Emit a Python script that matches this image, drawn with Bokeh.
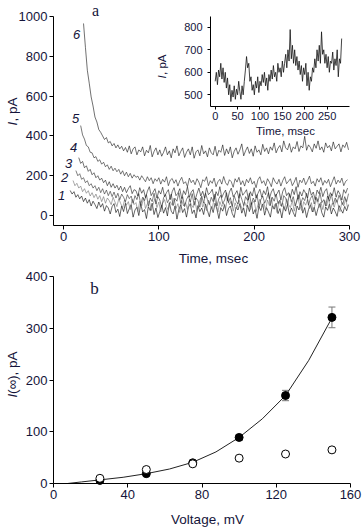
from math import pi
from bokeh.plotting import figure
from bokeh.layouts import column
from bokeh.models import (Range1d, FixedTicker, Label, ColumnDataSource, LinearAxis,
                          Whisker, TeeHead)
from bokeh.embed import file_html
from bokeh.resources import INLINE

# ---------------- data: panel a (current traces, pA vs ms) ----------------
STEP = 2.0
trace1_start = 7
trace1 = [126, 108, 120, 92, 105, 84, 98, 70, 88, 62,
          80, 48, 72, 55, 35, 68, 42, 60, 22, 50,
          38, 8, 45, 60, 15, 32, -5, 48, 20, 62,
          10, 35, 55, -8, 28, 42, 0, 58, 18, 30,
          -15, 45, 25, 62, 5, 38, -10, 20, 52, 12,
          40, -2, 65, 22, 8, 48, -18, 30, 55, 15,
          35, -8, 42, 60, 10, 28, -12, 50, 20, 38,
          5, 58, 25, -6, 45, 15, 62, 30, -15, 40,
          22, 55, 0, 35, 48, 10, -10, 42, 28, 60,
          12, 38, -5, 52, 20, 65, 8, 30, -14, 45,
          25, 58, 2, 40, 18, -8, 50, 32, 62, 10,
          35, -12, 46, 22, 56, 5, 38, 15, -6, 48,
          28, 64, 12, 40, -10, 30, 54, 18, 42, 0,
          36, 60, 14, -8, 44, 26, 58, 8, 38, 20,
          -4, 50, 30, 12, 46, 24, 55]
trace2_start = 10
trace2 = [176, 150, 162, 138, 148, 120, 135, 112, 125, 98,
          115, 90, 108, 82, 100, 70, 95, 62, 88, 75,
          55, 92, 68, 45, 85, 60, 38, 78, 52, 70,
          30, 82, 55, 65, 20, 72, 48, 90, 35, 60,
          75, 25, 58, 85, 40, 68, 18, 62, 80, 45,
          28, 70, 52, 88, 35, 60, 15, 75, 48, 65,
          30, 82, 55, 40, 72, 20, 58, 90, 42, 66,
          25, 78, 50, 35, 85, 60, 18, 70, 45, 62,
          32, 88, 55, 72, 22, 64, 40, 80, 50, 28,
          68, 45, 86, 30, 60, 75, 20, 55, 82, 42,
          65, 28, 78, 50, 90, 35, 58, 15, 72, 48,
          62, 30, 84, 55, 40, 76, 22, 60, 88, 45,
          25, 70, 52, 80, 35, 65, 18, 58, 85, 40,
          68, 30, 76, 48, 90, 26, 62, 42, 80, 55,
          20, 66, 48, 84, 38]
trace3_start = 13
trace3 = [226, 200, 210, 182, 190, 165, 175, 150, 160, 138,
          150, 125, 142, 115, 135, 108, 128, 100, 122, 95,
          118, 88, 112, 80, 108, 92, 70, 105, 85, 98,
          62, 100, 80, 110, 55, 92, 75, 105, 48, 88,
          70, 112, 58, 95, 78, 40, 90, 105, 65, 82,
          108, 50, 86, 72, 115, 60, 95, 45, 80, 100,
          68, 110, 52, 88, 75, 42, 98, 62, 112, 80,
          55, 92, 70, 108, 48, 85, 102, 60, 78, 115,
          65, 90, 45, 100, 72, 58, 110, 82, 50, 95,
          76, 112, 55, 88, 68, 105, 42, 80, 98, 62,
          85, 115, 50, 92, 72, 108, 60, 78, 45, 100,
          88, 55, 110, 70, 95, 48, 82, 105, 62, 90,
          75, 112, 52, 86, 100, 58, 92, 70, 115, 65,
          80, 48, 98, 72, 108, 56, 88, 66, 102, 78,
          55, 95, 70, 110]
trace4_start = 16
trace4 = [291, 262, 272, 240, 250, 222, 232, 205, 215, 190,
          200, 178, 188, 165, 178, 150, 170, 142, 160, 138,
          152, 128, 148, 120, 142, 115, 135, 150, 110, 130,
          125, 98, 140, 112, 130, 90, 122, 145, 100, 118,
          135, 88, 125, 108, 142, 95, 115, 130, 80, 120,
          140, 100, 112, 135, 85, 125, 105, 145, 92, 118,
          130, 78, 110, 138, 98, 122, 88, 140, 105, 115,
          132, 82, 120, 100, 145, 90, 112, 128, 75, 118,
          138, 95, 108, 125, 86, 142, 102, 115, 130, 80,
          120, 98, 140, 88, 112, 132, 92, 125, 105, 145,
          85, 118, 135, 96, 110, 128, 78, 122, 140, 100,
          115, 90, 132, 105, 145, 82, 120, 98, 130, 112,
          88, 138, 102, 118, 80, 128, 110, 142, 95, 122,
          135, 85, 115, 100, 140, 92, 125, 108, 78, 130,
          112, 138]
trace5_start = 18
trace5 = [452, 405, 384, 352, 345, 318, 315, 290, 296, 272,
          280, 258, 268, 245, 255, 232, 248, 225, 238, 220,
          232, 208, 225, 200, 218, 195, 212, 188, 205, 192,
          198, 178, 200, 185, 170, 195, 175, 190, 160, 185,
          172, 190, 158, 182, 168, 195, 150, 178, 186, 162,
          180, 148, 175, 192, 160, 170, 145, 188, 165, 178,
          155, 185, 168, 140, 180, 172, 195, 150, 175, 162,
          188, 145, 170, 182, 158, 196, 165, 152, 180, 170,
          142, 185, 168, 192, 155, 175, 148, 182, 165, 190,
          158, 172, 140, 180, 195, 162, 175, 150, 185, 168,
          145, 190, 170, 158, 182, 148, 176, 195, 160, 172,
          185, 150, 168, 192, 142, 178, 165, 188, 155, 175,
          198, 160, 172, 148, 185, 168, 190, 152, 176, 162,
          182, 145, 170, 195, 158, 178, 165, 188, 150, 172,
          180]
trace6_start = 21
trace6 = [965, 845, 730, 665, 596, 550, 495, 470, 432, 418,
          400, 382, 392, 365, 372, 350, 362, 340, 355, 335,
          348, 325, 342, 318, 350, 310, 335, 345, 305, 330,
          320, 345, 300, 328, 315, 352, 295, 322, 340, 305,
          330, 298, 318, 345, 305, 325, 290, 335, 315, 350,
          300, 322, 340, 292, 318, 335, 305, 345, 288, 320,
          330, 300, 352, 310, 325, 295, 340, 315, 305, 348,
          298, 328, 318, 355, 302, 335, 310, 345, 290, 322,
          340, 308, 330, 360, 300, 325, 345, 312, 335, 298,
          350, 318, 330, 305, 358, 322, 340, 310, 345, 328,
          365, 315, 338, 352, 320, 375, 340, 330, 362, 318,
          345, 335, 372, 322, 350, 340, 398, 328, 355, 342,
          320, 360, 338, 375, 330, 345, 318, 365, 340, 352,
          325, 370, 335, 348, 360, 320, 355, 342, 368, 330]
trace_names = ["1", "2", "3", "4", "5", "6"]

# inset trace (pA vs ms)
INSET_STEP = 2.5
inset_trace = [560, 600, 545, 610, 580, 640, 570, 620, 555, 600,
               530, 575, 500, 545, 470, 520, 490, 540, 480, 525,
               500, 560, 515, 480, 540, 500, 560, 610, 670, 620,
               640, 560, 580, 520, 545, 500, 560, 530, 580, 510,
               560, 540, 590, 555, 600, 540, 575, 520, 590, 560,
               610, 570, 630, 580, 600, 560, 640, 600, 620, 580,
               650, 600, 640, 680, 620, 700, 650, 790, 660, 720,
               640, 700, 630, 670, 610, 650, 590, 630, 560, 620,
               590, 640, 540, 600, 520, 580, 560, 620, 600, 660,
               620, 700, 650, 720, 640, 780, 680, 700, 640, 680,
               620, 670, 600, 650, 640, 690, 610, 660, 630, 700,
               580, 660, 640, 750]

# ---------------- data: panel b ----------------
volt = [25, 50, 75, 100, 125, 150]
i_filled = [6, 19, 40, 89, 170, 321]
i_err = [2, 3, 4, 5, 10, 20]
i_open = [10, 27, 38, 49, 57, 65]
fit_v = [7.5, 15, 25, 37.5, 50, 62.5, 75, 87.5, 100, 112.5, 125, 137.5, 150]
fit_i = [0, 3, 7, 12, 19, 28, 41, 61, 89, 125, 170, 238, 320]

a_xticks = [0, 100, 200, 300]
a_yticks = [0, 200, 400, 600, 800, 1000]
in_xticks = [0, 50, 100, 150, 200, 250]
in_yticks = [500, 600, 700, 800]
b_xticks = [0, 40, 80, 120, 160]
b_yticks = [0, 100, 200, 300, 400]

FONT = "Liberation Sans"
SERIF = "Liberation Serif"
TXT = "#14143a"

W = 363
TOP_H = 268
BOT_H = 261


def lin(v0, p0, v1, p1):
    """map a canvas pixel to a data value (layout helper)"""
    k = (v1 - v0) / (p1 - p0)
    return lambda p: v0 + (p - p0) * k


def style_axis(ax, fs, tick_out=4, standoff=2):
    ax.minor_tick_line_color = None
    ax.major_tick_in = 0
    ax.major_tick_out = tick_out
    ax.axis_line_color = "black"
    ax.axis_line_width = 1
    ax.major_tick_line_color = "black"
    ax.major_label_text_font = FONT
    ax.major_label_text_font_size = fs
    ax.major_label_text_color = TXT
    ax.major_label_standoff = standoff


def bare_fig(h, xr, yr):
    p = figure(width=W, height=h, x_range=xr, y_range=yr,
               x_axis_location=None, y_axis_location=None,
               toolbar_location=None, output_backend="svg",
               min_border_left=0, min_border_right=0, min_border_top=0, min_border_bottom=0)
    p.xgrid.visible = False
    p.ygrid.visible = False
    p.outline_line_color = None
    return p


def add_axes(p, xloc, xb, xt, yloc, yb, yt, fs, xr_name="default", yr_name="default",
             tick_out=4, ystandoff=2):
    xa = LinearAxis(x_range_name=xr_name, y_range_name=yr_name, fixed_location=xloc,
                    bounds=xb, ticker=FixedTicker(ticks=xt))
    ya = LinearAxis(x_range_name=xr_name, y_range_name=yr_name, fixed_location=yloc,
                    bounds=yb, ticker=FixedTicker(ticks=yt))
    style_axis(xa, fs, tick_out=tick_out, standoff=2)
    style_axis(ya, fs, tick_out=tick_out, standoff=ystandoff)
    p.add_layout(xa, "below")
    p.add_layout(ya, "left")


def lab(p, x, y, text, size="13px", font=FONT, style_="normal", angle=0,
        align="center", baseline="middle"):
    p.add_layout(Label(x=x, y=y, text=text, text_font=font, text_font_size=size,
                       text_font_style=style_, text_color=TXT, angle=angle,
                       text_align=align, text_baseline=baseline))


# ---------------- panel a ----------------
X = lin(-10.5, 53, 300, 349)
Y = lin(-50, 225, 1000, 16)
pa = bare_fig(TOP_H, Range1d(X(0), X(W)), Range1d(Y(TOP_H), Y(0)))
add_axes(pa, -50, (-10.5, 300), a_xticks, -10.5, (-50, 1000), a_yticks, "13px")

starts = [trace1_start, trace2_start, trace3_start, trace4_start, trace5_start, trace6_start]
traces = [trace1, trace2, trace3, trace4, trace5, trace6]
colors = ["#000000", "#6e6e6e", "#2c2c2c", "#161616", "#1e1e1e", "#101010"]
for st, tr, c in zip(starts, traces, colors):
    t = [st + STEP * k for k in range(len(tr))]
    pa.line(t, tr, line_color=c, line_width=0.6)

num_px = [(61, 195), (64, 177), (68, 163), (73, 147), (75, 118), (76, 34)]
for name, (px, py) in zip(trace_names, num_px):
    lab(pa, X(px), Y(py), name, size="13px", style_="italic")

lab(pa, X(95), Y(1), "a", size="16px", font=SERIF, baseline="top")
lab(pa, X(213), Y(258), "Time, msec", size="13.5px")
lab(pa, X(12), Y(125), "I", size="13.5px", style_="italic", angle=pi / 2, align="left")
lab(pa, X(12), Y(121), ", pA", size="13.5px", angle=pi / 2, align="left")

# inset on its own ranges
IX = lin(-10.5, 210, 300, 349)
IY = lin(448, 106, 848, 16)
pa.extra_x_ranges = {"ix": Range1d(IX(0), IX(W))}
pa.extra_y_ranges = {"iy": Range1d(IY(TOP_H), IY(0))}
add_axes(pa, 448, (-10.5, 300), in_xticks, -10.5, (448, 848), in_yticks, "11px",
         xr_name="ix", yr_name="iy", tick_out=3, ystandoff=5)
ti = [INSET_STEP * k for k in range(len(inset_trace))]
pa.line(ti, inset_trace, x_range_name="ix", y_range_name="iy",
        line_color="#141414", line_width=0.8)
lab(pa, X(285), Y(130), "Time, msec", size="11.5px")
lab(pa, X(161), Y(78), "I", size="11.5px", style_="italic", angle=pi / 2, align="left")
lab(pa, X(161), Y(74.5), ", pA", size="11.5px", angle=pi / 2, align="left")

# ---------------- panel b ----------------
BX = lin(0, 53, 160, 350)
BY = lin(0, 483 - TOP_H, 400, 276 - TOP_H)
pb = bare_fig(BOT_H, Range1d(BX(0), BX(W)), Range1d(BY(BOT_H), BY(0)))
add_axes(pb, 0, (0, 160), b_xticks, 0, (0, 400), b_yticks, "13px")

pb.line(fit_v, fit_i, line_color="#222222", line_width=1)
src = ColumnDataSource(dict(v=volt, i=i_filled,
                            up=[a + b for a, b in zip(i_filled, i_err)],
                            lo=[a - b for a, b in zip(i_filled, i_err)]))
pb.add_layout(Whisker(source=src, base="v", upper="up", lower="lo", line_color="#777777",
                      line_width=1,
                      upper_head=TeeHead(size=7, line_color="#777777", line_width=1),
                      lower_head=TeeHead(size=7, line_color="#777777", line_width=1)))
pb.scatter("v", "i", source=src, size=8, fill_color="black", line_color="black")
pb.scatter(volt, i_open, size=8, fill_color="white", line_color="black", line_width=1)

lab(pb, BX(94), BY(288 - TOP_H), "b", size="17px", font=SERIF)
lab(pb, BX(207), BY(519 - TOP_H), "Voltage, mV", size="13.5px")
lab(pb, BX(12), BY(397 - TOP_H), "I", size="13.5px", style_="italic", angle=pi / 2, align="left")
lab(pb, BX(12), BY(393.5 - TOP_H), "(\u221e), pA", size="13.5px", angle=pi / 2, align="left")

layout = column(pa, pb, spacing=0)

open("out.html", "w").write(file_html(layout, INLINE))
